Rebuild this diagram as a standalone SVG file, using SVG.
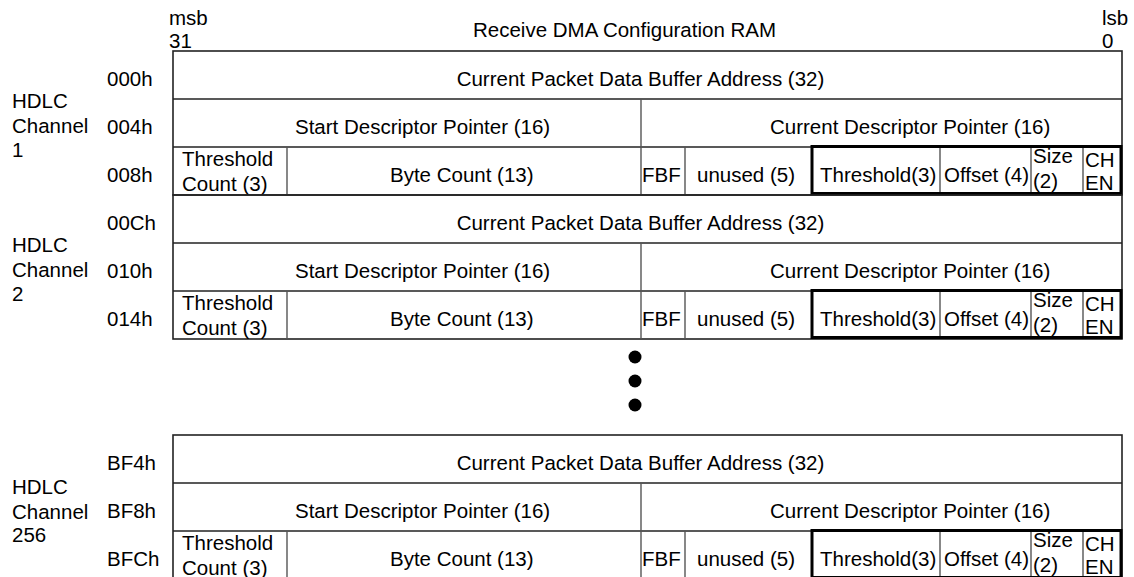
<svg xmlns="http://www.w3.org/2000/svg" width="1134" height="577" viewBox="0 0 1134 577">
<style>
text{font-family:"Liberation Sans",Arial,sans-serif;font-size:20.5px;fill:#000}
.h{stroke:#222;stroke-width:1.6;fill:none}
.v{stroke:#555;stroke-width:1.4;fill:none}
.b{stroke:#000;stroke-width:3;fill:none}
.m{text-anchor:middle}
</style>
<rect width="1134" height="577" fill="#fff"/>
<g id="header">
<text x="169" y="25">msb</text>
<text x="169" y="48">31</text>
<text x="473" y="37">Receive DMA Configuration RAM</text>
<text x="1102" y="25">lsb</text>
<text x="1102" y="48">0</text>
</g>
<defs>
<g id="blk">
<rect x="173" y="0" width="949" height="144" class="h"/>
<line x1="173" y1="48" x2="1122" y2="48" class="h"/>
<line x1="173" y1="96" x2="1122" y2="96" class="h"/>
<line x1="641" y1="48" x2="641" y2="144" class="v"/>
<line x1="287" y1="96" x2="287" y2="144" class="v"/>
<line x1="685" y1="96" x2="685" y2="144" class="v"/>
<line x1="940" y1="96" x2="940" y2="144" class="v"/>
<line x1="1031" y1="96" x2="1031" y2="144" class="v"/>
<line x1="1083" y1="96" x2="1083" y2="144" class="v"/>
<rect x="812" y="95.5" width="309" height="47" class="b"/>
<text x="640.5" y="35" class="m">Current Packet Data Buffer Address (32)</text>
<text x="295" y="83">Start Descriptor Pointer (16)</text>
<text x="770" y="83">Current Descriptor Pointer (16)</text>
<text x="182" y="115">Threshold</text>
<text x="182" y="140">Count (3)</text>
<text x="390" y="131">Byte Count (13)</text>
<text x="642" y="131">FBF</text>
<text x="697" y="131">unused (5)</text>
<text x="820" y="131">Threshold(3)</text>
<text x="944" y="131">Offset (4)</text>
<text x="1033" y="112">Size</text>
<text x="1033" y="137">(2)</text>
<text x="1085" y="116">CH</text>
<text x="1085" y="139">EN</text>
</g>
</defs>
<g id="channel1">
<use href="#blk" transform="translate(0,51)"/>
<text x="12" y="108">HDLC</text>
<text x="12" y="133">Channel</text>
<text x="12" y="157">1</text>
<text x="107" y="86">000h</text>
<text x="107" y="134">004h</text>
<text x="107" y="182">008h</text>
</g>
<g id="channel2">
<use href="#blk" transform="translate(0,195)"/>
<text x="12" y="252">HDLC</text>
<text x="12" y="277">Channel</text>
<text x="12" y="301">2</text>
<text x="107" y="230">00Ch</text>
<text x="107" y="278">010h</text>
<text x="107" y="326">014h</text>
</g>
<g id="ellipsis">
<circle cx="635" cy="357" r="6.5" fill="#000"/>
<circle cx="635" cy="381" r="6.5" fill="#000"/>
<circle cx="635" cy="405" r="6.5" fill="#000"/>
</g>
<g id="channel256">
<use href="#blk" transform="translate(0,435)"/>
<text x="12" y="494">HDLC</text>
<text x="12" y="519">Channel</text>
<text x="12" y="542">256</text>
<text x="107" y="470">BF4h</text>
<text x="107" y="518">BF8h</text>
<text x="107" y="566">BFCh</text>
</g>
</svg>
